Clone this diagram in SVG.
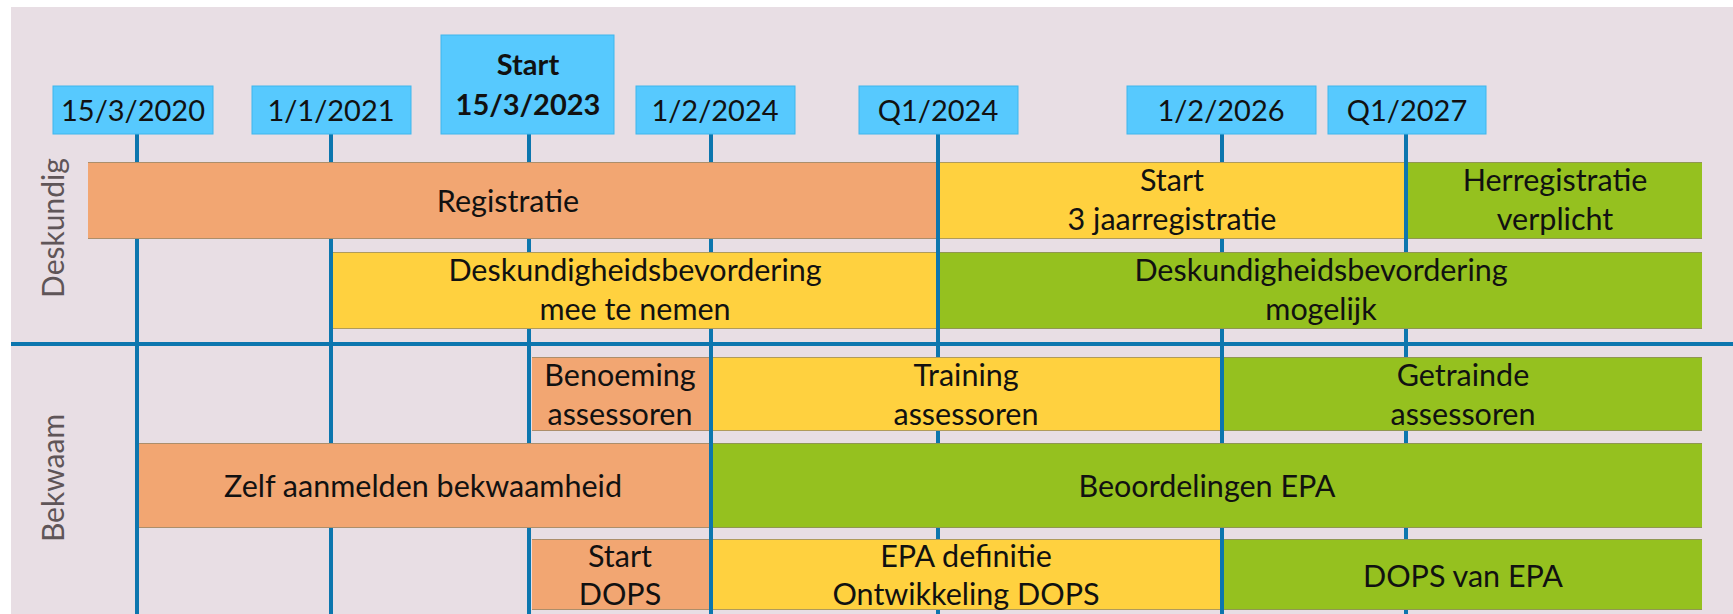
<svg xmlns="http://www.w3.org/2000/svg" width="1733" height="614" viewBox="0 0 1733 614">
  <style>
    .bg { fill: #E8DEE4; }
    .date { fill: #57C9FE; stroke: #3FB6EC; stroke-width: 1; }
    .dt { font-family: Lato, "Liberation Sans", sans-serif; font-size: 29px; fill: #111; text-anchor: middle; }
    .dtb { font-family: Lato, "Liberation Sans", sans-serif; font-size: 29px; font-weight: bold; fill: #111; text-anchor: middle; }
    .bar { stroke: none; }
    .edge { stroke: #8E8468; stroke-width: 1; stroke-opacity: 0.7; }
    .or { fill: #F2A672; }
    .ye { fill: #FFD13F; }
    .gr { fill: #95C11F; }
    .bt { font-family: Lato, "Liberation Sans", sans-serif; font-size: 30.5px; fill: #111; text-anchor: middle; }
    .lbl { font-family: Lato, "Liberation Sans", sans-serif; font-size: 30px; fill: #5F5558; text-anchor: middle; }
    .vl { stroke: #0C76AE; stroke-width: 4; fill: none; }
  </style>
  <rect x="0" y="0" width="1733" height="614" fill="#FFFFFF"/>
  <rect class="bg" x="11" y="7" width="1722" height="607"/>

  <g id="connectors">
    <line class="vl" x1="137" y1="134" x2="137" y2="614"/>
    <line class="vl" x1="331" y1="134" x2="331" y2="614"/>
    <line class="vl" x1="529" y1="134" x2="529" y2="614"/>
    <line class="vl" x1="711" y1="134" x2="711" y2="614"/>
    <line class="vl" x1="938" y1="134" x2="938" y2="614"/>
    <line class="vl" x1="1222" y1="134" x2="1222" y2="614"/>
    <line class="vl" x1="1406" y1="134" x2="1406" y2="614"/>
    <line class="vl" x1="11" y1="344" x2="1733" y2="344"/>
  </g>

  <g id="label-deskundig">
    <text class="lbl" transform="translate(64,228) rotate(-90)">Deskundig</text>
  </g>
  <g id="label-bekwaam">
    <text class="lbl" transform="translate(64,478) rotate(-90)">Bekwaam</text>
  </g>

  <g id="date-2020">
    <rect class="date" x="53" y="86" width="160" height="48"/>
    <text class="dt" x="133" y="121">15/3/2020</text>
  </g>
  <g id="date-2021">
    <rect class="date" x="252" y="86" width="159" height="48"/>
    <text class="dt" x="331" y="121">1/1/2021</text>
  </g>
  <g id="date-start-2023">
    <rect class="date" x="441" y="35" width="173" height="99"/>
    <text class="dtb" x="528" y="75">Start</text>
    <text class="dtb" x="528" y="115">15/3/2023</text>
  </g>
  <g id="date-2024">
    <rect class="date" x="636" y="86" width="159" height="48"/>
    <text class="dt" x="715" y="121">1/2/2024</text>
  </g>
  <g id="date-q1-2024">
    <rect class="date" x="859" y="86" width="159" height="48"/>
    <text class="dt" x="938" y="121">Q1/2024</text>
  </g>
  <g id="date-2026">
    <rect class="date" x="1127" y="86" width="189" height="48"/>
    <text class="dt" x="1221" y="121">1/2/2026</text>
  </g>
  <g id="date-q1-2027">
    <rect class="date" x="1328" y="86" width="158" height="48"/>
    <text class="dt" x="1407" y="121">Q1/2027</text>
  </g>

  <g id="registratie">
    <rect class="bar or" x="88" y="162" width="848" height="77"/>
    <path class="edge" d="M88 162.5H936M88 238.5H936"/>
    <text class="bt" x="508" y="212">Registratie</text>
  </g>
  <g id="start-3jaar">
    <rect class="bar ye" x="940" y="162" width="464" height="77"/>
    <path class="edge" d="M940 162.5H1404M940 238.5H1404"/>
    <text class="bt" x="1172" y="191">Start</text>
    <text class="bt" x="1172" y="230">3 jaarregistratie</text>
  </g>
  <g id="herregistratie">
    <rect class="bar gr" x="1408" y="162" width="294" height="77"/>
    <path class="edge" d="M1408 162.5H1702M1408 238.5H1702"/>
    <text class="bt" x="1555" y="191">Herregistratie</text>
    <text class="bt" x="1555" y="230">verplicht</text>
  </g>

  <g id="deskbev-mee">
    <rect class="bar ye" x="333" y="252" width="603" height="77"/>
    <path class="edge" d="M333 252.5H936M333 328.5H936"/>
    <text class="bt" x="635" y="281">Deskundigheidsbevordering</text>
    <text class="bt" x="635" y="320">mee te nemen</text>
  </g>
  <g id="deskbev-mogelijk">
    <rect class="bar gr" x="940" y="252" width="762" height="77"/>
    <path class="edge" d="M940 252.5H1702M940 328.5H1702"/>
    <text class="bt" x="1321" y="281">Deskundigheidsbevordering</text>
    <text class="bt" x="1321" y="320">mogelijk</text>
  </g>

  <g id="benoeming">
    <rect class="bar or" x="532" y="357" width="177" height="74"/>
    <path class="edge" d="M532 357.5H709M532 430.5H709"/>
    <text class="bt" x="620" y="386">Benoeming</text>
    <text class="bt" x="620" y="425">assessoren</text>
  </g>
  <g id="training">
    <rect class="bar ye" x="713" y="357" width="507" height="74"/>
    <path class="edge" d="M713 357.5H1220M713 430.5H1220"/>
    <text class="bt" x="966" y="386">Training</text>
    <text class="bt" x="966" y="425">assessoren</text>
  </g>
  <g id="getrainde">
    <rect class="bar gr" x="1224" y="357" width="478" height="74"/>
    <path class="edge" d="M1224 357.5H1702M1224 430.5H1702"/>
    <text class="bt" x="1463" y="386">Getrainde</text>
    <text class="bt" x="1463" y="425">assessoren</text>
  </g>

  <g id="zelf-aanmelden">
    <rect class="bar or" x="139" y="443" width="570" height="85"/>
    <path class="edge" d="M139 443.5H709M139 527.5H709"/>
    <text class="bt" x="423" y="497">Zelf aanmelden bekwaamheid</text>
  </g>
  <g id="beoordelingen">
    <rect class="bar gr" x="713" y="443" width="989" height="85"/>
    <path class="edge" d="M713 443.5H1702M713 527.5H1702"/>
    <text class="bt" x="1207" y="497">Beoordelingen EPA</text>
  </g>

  <g id="start-dops">
    <rect class="bar or" x="532" y="539" width="177" height="71"/>
    <path class="edge" d="M532 539.5H709M532 609.5H709"/>
    <text class="bt" x="620" y="567">Start</text>
    <text class="bt" x="620" y="605">DOPS</text>
  </g>
  <g id="epa-definitie">
    <rect class="bar ye" x="713" y="539" width="507" height="71"/>
    <path class="edge" d="M713 539.5H1220M713 609.5H1220"/>
    <text class="bt" x="966" y="567">EPA definitie</text>
    <text class="bt" x="966" y="605">Ontwikkeling DOPS</text>
  </g>
  <g id="dops-van-epa">
    <rect class="bar gr" x="1224" y="539" width="478" height="71"/>
    <path class="edge" d="M1224 539.5H1702M1224 609.5H1702"/>
    <text class="bt" x="1463" y="587">DOPS van EPA</text>
  </g>
</svg>
